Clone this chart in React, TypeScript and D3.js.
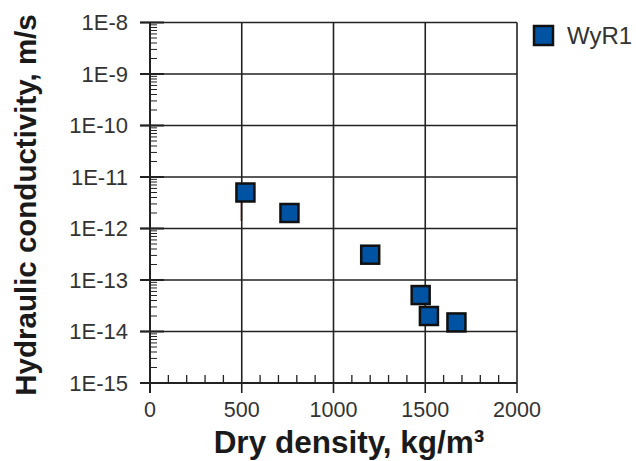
import React, { useEffect, useRef } from "react";
import * as d3 from "d3";

const width = 636,
  height = 461;

// data
const density = [520, 760, 1200, 1475, 1520, 1670];
const conductivity = [5e-12, 2e-12, 3.1e-13, 5.1e-14, 2e-14, 1.5e-14];
const seriesName = "WyR1";
const xTicks = [0, 500, 1000, 1500, 2000];
const yTicks = [1e-15, 1e-14, 1e-13, 1e-12, 1e-11, 1e-10, 1e-9, 1e-8];
const yTickLabels = ["1E-15", "1E-14", "1E-13", "1E-12", "1E-11", "1E-10", "1E-9", "1E-8"];

const margin = { top: 22.5, right: 119, bottom: 78, left: 150 };

export default function App() {
  const ref = useRef<SVGSVGElement>(null);

  useEffect(() => {
    const svg = d3.select(ref.current);
    svg.selectAll("*").remove();

    const x = d3
      .scaleLinear()
      .domain([0, 2000])
      .range([margin.left, width - margin.right]);
    const y = d3
      .scaleLog()
      .domain([1e-15, 1e-8])
      .range([height - margin.bottom, margin.top]);

    const font = "'Liberation Sans', Arial, sans-serif";
    const ink = "#222";
    const x0 = x.range()[0],
      x1 = x.range()[1];
    const y0 = y.range()[0],
      y1 = y.range()[1];

    // gridlines
    const grid = svg.append("g").attr("stroke", ink).attr("stroke-width", 1.6);
    grid
      .selectAll("line.h")
      .data(yTicks)
      .join("line")
      .attr("class", "h")
      .attr("x1", x0 - 10)
      .attr("x2", x1)
      .attr("y1", d => y(d))
      .attr("y2", d => y(d));
    grid
      .selectAll("line.v")
      .data(xTicks)
      .join("line")
      .attr("class", "v")
      .attr("x1", d => x(d))
      .attr("x2", d => x(d))
      .attr("y1", y1)
      .attr("y2", y0 + 10);

    // minor ticks, y (log 2..9 per decade)
    const minorY: number[] = [];
    for (let e = -15; e < -8; e++) {
      for (let m = 2; m <= 9; m++) minorY.push(m * Math.pow(10, e));
    }
    svg
      .append("g")
      .attr("stroke", ink)
      .attr("stroke-width", 1)
      .selectAll("line")
      .data(minorY)
      .join("line")
      .attr("x1", x0)
      .attr("x2", x0 + 7)
      .attr("y1", d => y(d))
      .attr("y2", d => y(d));

    // major tick stubs on y axis
    svg
      .append("g")
      .attr("stroke", ink)
      .attr("stroke-width", 2)
      .selectAll("line")
      .data(yTicks)
      .join("line")
      .attr("x1", x0 - 10)
      .attr("x2", x0 + 14)
      .attr("y1", d => y(d))
      .attr("y2", d => y(d));

    // minor ticks, x
    const minorX = d3.range(100, 2000, 100).filter(d => d % 500 !== 0);
    svg
      .append("g")
      .attr("stroke", ink)
      .attr("stroke-width", 1.3)
      .selectAll("line")
      .data(minorX)
      .join("line")
      .attr("x1", d => x(d))
      .attr("x2", d => x(d))
      .attr("y1", y0)
      .attr("y2", y0 - 8);

    // axis lines
    svg
      .append("g")
      .attr("stroke", ink)
      .attr("stroke-width", 2)
      .call(g => g.append("line").attr("x1", x0).attr("x2", x0).attr("y1", y1).attr("y2", y0 + 10))
      .call(g => g.append("line").attr("x1", x0 - 10).attr("x2", x1).attr("y1", y0).attr("y2", y0));

    // tick labels
    svg
      .append("g")
      .attr("font-family", font)
      .attr("font-size", 22)
      .attr("fill", "#333")
      .attr("text-anchor", "end")
      .selectAll("text")
      .data(yTicks)
      .join("text")
      .attr("x", x0 - 22)
      .attr("y", d => y(d))
      .attr("dy", "0.36em")
      .text((d, i) => yTickLabels[i]);

    svg
      .append("g")
      .attr("font-family", font)
      .attr("font-size", 21.5)
      .attr("fill", "#333")
      .attr("text-anchor", "middle")
      .selectAll("text")
      .data(xTicks)
      .join("text")
      .attr("x", d => x(d))
      .attr("y", y0 + 34)
      .text(d => String(d));

    // axis titles
    svg
      .append("text")
      .attr("font-family", font)
      .attr("font-weight", "bold")
      .attr("font-size", 31.5)
      .attr("fill", "#1a1a1a")
      .attr("text-anchor", "middle")
      .attr("x", 349)
      .attr("y", 453)
      .text("Dry density, kg/m³");

    svg
      .append("text")
      .attr("font-family", font)
      .attr("font-weight", "bold")
      .attr("font-size", 29.5)
      .attr("fill", "#1a1a1a")
      .attr("text-anchor", "middle")
      .attr("transform", `translate(36,205) rotate(-90)`)
      .text("Hydraulic conductivity, m/s");

    // small error bar under the first point
    svg
      .append("line")
      .attr("stroke", "#3a0a0a")
      .attr("stroke-width", 1.5)
      .attr("x1", x(density[0]) - 4)
      .attr("x2", x(density[0]) - 4)
      .attr("y1", y(conductivity[0]))
      .attr("y2", y(1.4e-12));

    // points
    const s = 18;
    svg
      .append("g")
      .selectAll("rect")
      .data(density)
      .join("rect")
      .attr("x", d => x(d) - s / 2)
      .attr("y", (d, i) => y(conductivity[i]) - s / 2)
      .attr("width", s)
      .attr("height", s)
      .attr("fill", "#0052a3")
      .attr("stroke", "#111")
      .attr("stroke-width", 2.5);

    // legend
    const lg = svg.append("g").attr("transform", `translate(533,25)`);
    lg.append("rect")
      .attr("x", 1)
      .attr("y", 1)
      .attr("width", 19)
      .attr("height", 19)
      .attr("fill", "#0052a3")
      .attr("stroke", "#111")
      .attr("stroke-width", 2.5);
    lg.append("text")
      .attr("x", 34)
      .attr("y", 18.5)
      .attr("font-family", font)
      .attr("font-size", 24)
      .attr("fill", "#333")
      .text(seriesName);
  }, []);

  return (
    <svg
      ref={ref}
      width={width}
      height={height}
      style={{ position: "absolute", left: 0, top: 0, background: "#fff" }}
    />
  );
}
